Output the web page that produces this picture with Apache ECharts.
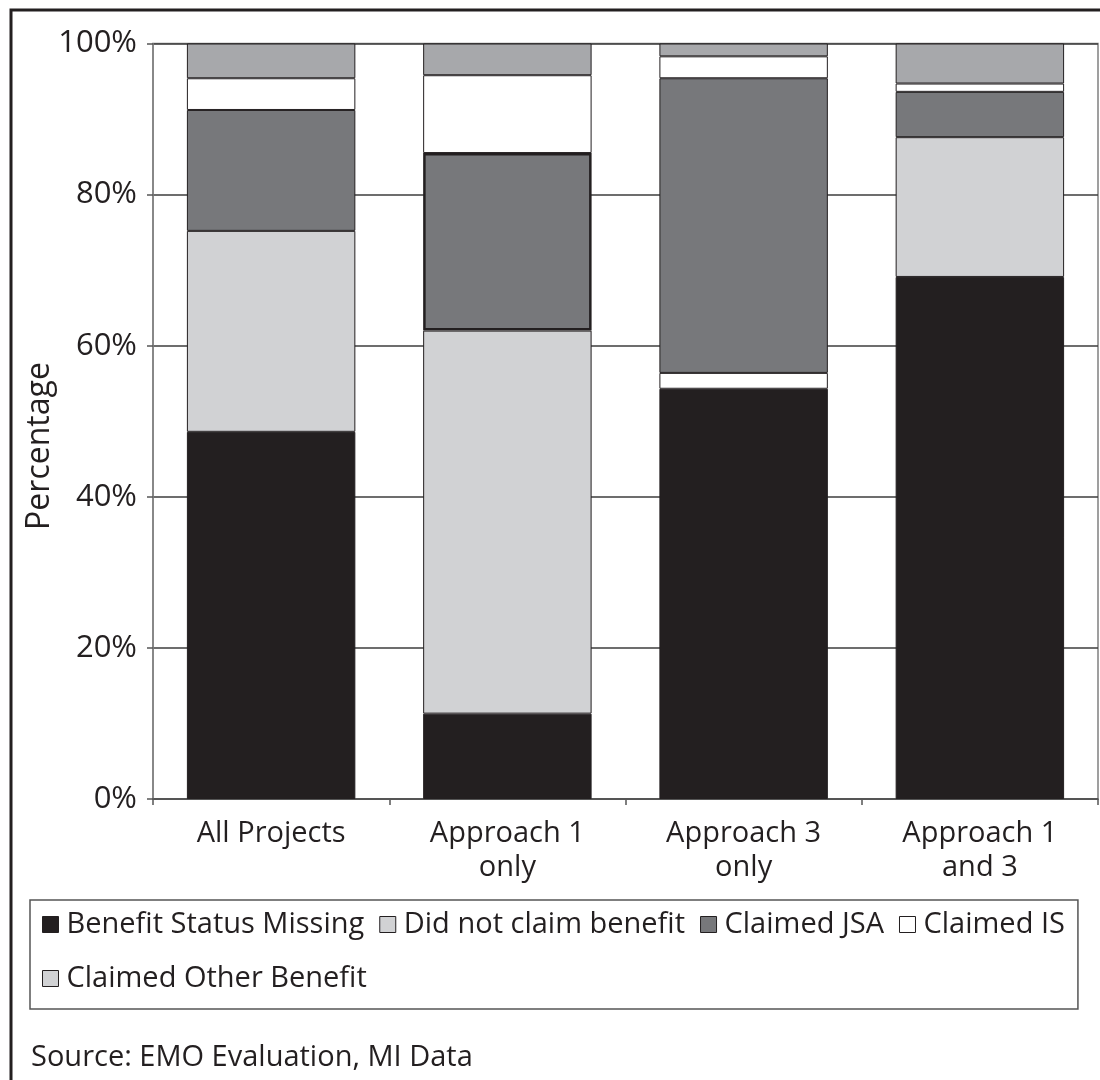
<!DOCTYPE html>
<html>
<head>
<meta charset="utf-8">
<title>Benefit status by approach</title>
<script src="https://cdn.jsdelivr.net/npm/echarts@6/dist/echarts.min.js"></script>
<style>
  html, body { margin: 0; padding: 0; background: #ffffff; }
  #chart { width: 1100px; height: 1080px; }
</style>
</head>
<body>
<div id="chart"></div>
<script>
// Share of participants in each benefit group, per project approach (percent)
const categories = ['All Projects', 'Approach 1\nonly', 'Approach 3\nonly', 'Approach 1\nand 3'];
const benefitStatusMissing = [48.6, 11.3, 54.3, 69.1];
const didNotClaimBenefit   = [26.6, 50.7, 2.1, 18.5];
const claimedJSA           = [16.0, 23.5, 39.0, 6.0];
const claimedIS            = [4.2, 10.3, 2.9, 1.1];
const claimedOtherBenefit  = [4.6, 4.2, 1.7, 5.3];
const yTickValues = [0, 20, 40, 60, 80, 100];

const FONT = "'Open Sans', 'DejaVu Sans', sans-serif";
const INK = '#231f20';

const seriesDefs = [
  { name: 'Benefit Status Missing', values: benefitStatusMissing, color: '#231f20' },
  { name: 'Did not claim benefit',  values: didNotClaimBenefit,   color: '#d1d2d4' },
  { name: 'Claimed JSA',            values: claimedJSA,           color: '#77787b' },
  { name: 'Claimed IS',             values: claimedIS,            color: '#ffffff' },
  { name: 'Claimed Other Benefit',  values: claimedOtherBenefit,  color: '#a7a8ab' }
];

// Individually formatted segments
const pointStyles = {
  'Did not claim benefit|2': { color: '#ffffff' },
  'Claimed JSA|1': { borderWidth: 2.5 }
};

const series = seriesDefs.map(def => ({
  name: def.name,
  type: 'bar',
  stack: 'total',
  barWidth: '71.3%',
  itemStyle: { color: def.color, borderColor: INK, borderWidth: 1 },
  emphasis: { disabled: true },
  data: def.values.map((v, i) => {
    const st = pointStyles[def.name + '|' + i];
    return st ? { value: v, itemStyle: st } : v;
  })
}));

const legendData = seriesDefs.map(def => def.name === 'Claimed Other Benefit'
  ? { name: def.name, itemStyle: { color: '#d1d2d4' } }
  : { name: def.name });

const chart = echarts.init(document.getElementById('chart'), null, { renderer: 'canvas' });

chart.setOption({
  animation: false,
  backgroundColor: '#ffffff',
  textStyle: { fontFamily: FONT, color: INK },
  grid: {
    left: 153, right: 2, top: 43.5, bottom: 281,
    show: true, borderColor: '#808080', borderWidth: 1.5,
    containLabel: false
  },
  xAxis: {
    type: 'category',
    data: categories,
    axisLine: { show: true, lineStyle: { color: '#555555', width: 1.5 } },
    axisTick: { show: true, length: 6, inside: false, lineStyle: { color: '#555555', width: 1.5 } },
    axisLabel: {
      fontFamily: FONT, fontSize: 29, color: INK, margin: 18, lineHeight: 34,
      interval: 0
    }
  },
  yAxis: {
    type: 'value',
    min: 0, max: 100, interval: 20,
    axisLine: { show: true, lineStyle: { color: '#808080', width: 1.5 } },
    axisTick: { show: true, length: 6, lineStyle: { color: '#555555', width: 1.5 } },
    axisLabel: {
      fontFamily: FONT, fontSize: 31, color: INK, margin: 16,
      formatter: v => yTickValues.includes(v) ? v + '%' : ''
    },
    splitLine: { show: true, lineStyle: { color: '#3c3c3c', width: 1.5 } }
  },
  legend: {
    data: legendData,
    orient: 'horizontal',
    left: 30, top: 900,
    width: 1045,
    padding: [5, 13, 11, 12],
    itemGap: 15,
    itemWidth: 16, itemHeight: 16,
    icon: 'rect',
    borderColor: '#555555', borderWidth: 1.5,
    selectedMode: false,
    textStyle: { fontFamily: FONT, fontSize: 29, color: INK, lineHeight: 39, padding: [0, 0, 0, 3] },
    itemStyle: { borderColor: INK, borderWidth: 1 }
  },
  graphic: [
    {
      type: 'rect',
      silent: true,
      shape: { x: 11, y: 10, width: 1300, height: 1300 },
      style: { fill: 'none', stroke: INK, lineWidth: 3 }
    },
    {
      type: 'text',
      silent: true,
      x: 40, y: 446,
      rotation: Math.PI / 2,
      style: {
        text: 'Percentage', fontFamily: FONT, fontSize: 32, fill: INK,
        align: 'center', verticalAlign: 'middle'
      }
    },
    {
      type: 'text',
      silent: true,
      x: 31, y: 1058,
      style: {
        text: 'Source: EMO Evaluation, MI Data', fontFamily: FONT, fontSize: 29, fill: INK,
        align: 'left', verticalAlign: 'middle'
      }
    }
  ],
  series: series
});
</script>
</body>
</html>
